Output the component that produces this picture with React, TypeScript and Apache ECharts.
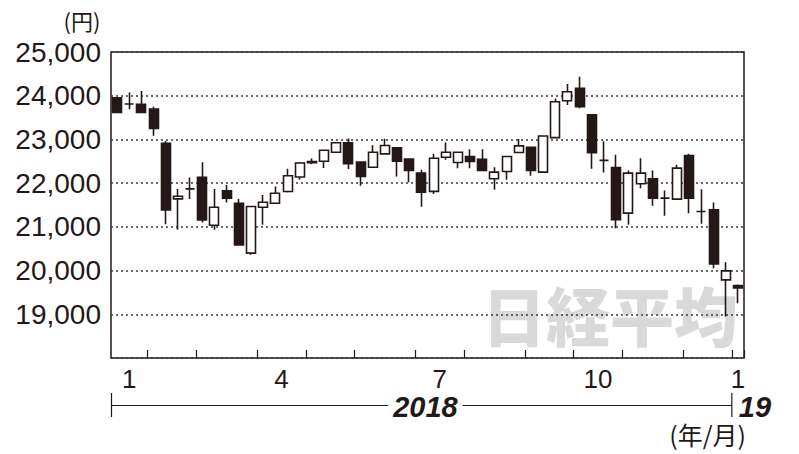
import React, { useEffect, useRef } from "react";
import * as echarts from "echarts";

// Weekly Nikkei 225 candles (week-ending dates)
const weeks = [
  "2018/01/12", "2018/01/19", "2018/01/26",
  "2018/02/02", "2018/02/09", "2018/02/16", "2018/02/23",
  "2018/03/02", "2018/03/09", "2018/03/16", "2018/03/23", "2018/03/30",
  "2018/04/06", "2018/04/13", "2018/04/20", "2018/04/27",
  "2018/05/02", "2018/05/11", "2018/05/18", "2018/05/25",
  "2018/06/01", "2018/06/08", "2018/06/15", "2018/06/22", "2018/06/29",
  "2018/07/06", "2018/07/13", "2018/07/20", "2018/07/27",
  "2018/08/03", "2018/08/10", "2018/08/17", "2018/08/24", "2018/08/31",
  "2018/09/07", "2018/09/14", "2018/09/21", "2018/09/28",
  "2018/10/05", "2018/10/12", "2018/10/19", "2018/10/26",
  "2018/11/02", "2018/11/09", "2018/11/16", "2018/11/22", "2018/11/30",
  "2018/12/07", "2018/12/14", "2018/12/21", "2018/12/28",
  "2019/01/04",
];

const opens = [
  23954, 23810, 23802,
  23695, 22911, 21639, 21868,
  22135, 21037, 21822, 21540, 20398,
  21449, 21539, 21808, 22139,
  22492, 22500, 22708, 22923,
  22485, 22362, 22669, 22808, 22554,
  22231, 21811, 22594, 22472,
  22609, 22548, 22100, 22267, 22700,
  22822, 22252, 23042, 23886,
  24167, 23562, 22520, 22359,
  21313, 21985, 22099, 21657, 21634,
  22633, 21351, 21390, 19787,
  19655,
];

const closes = [
  23619, 23810, 23619,
  23254, 21388, 21700, 21868,
  21160, 21449, 21654, 20588, 21464,
  21563, 21770, 22169, 22462,
  22470, 22754, 22923, 22446,
  22154, 22708, 22862, 22500, 22292,
  21792, 22571, 22708, 22708,
  22495, 22290, 22252, 22609, 22852,
  22290, 23080, 23863, 24091,
  23749, 22694, 22520, 21161,
  22229, 22229, 21657, 21657, 22343,
  21657, 21351, 20154, 19993,
  19600,
];

const lows = [
  23600, 23688, 23596,
  23086, 21060, 20931, 21639,
  21100, 20931, 21555, 20565, 20360,
  21046, 21539, 21785, 22077,
  22431, 22346, 22708, 22323,
  21939, 22362, 22669, 22154, 22023,
  21462, 21750, 22533, 22343,
  22343, 22290, 21849, 22077, 22700,
  22168, 22252, 23042, 23787,
  23711, 22331, 22241, 20970,
  21046, 21886, 21481, 21252, 21634,
  21313, 21069, 20054, 18948,
  19253,
];

const highs = [
  23960, 24076, 24106,
  23749, 22964, 21868, 22127,
  22477, 21868, 21959, 21639, 21464,
  21731, 21923, 22331, 22485,
  22562, 22754, 22923, 23023,
  22485, 22869, 23015, 22808, 22554,
  22308, 22670, 22928, 22708,
  22776, 22776, 22366, 22609, 23012,
  22822, 23080, 23939, 24266,
  24433, 23562, 22958, 22649,
  22290, 22572, 22290, 21832, 22420,
  22671, 21863, 21557, 20192,
  19680,
];

// Month labels shown under the axis (keyed by year/month)
const monthLabels: Record<string, string> = {
  "2018/01": "1",
  "2018/04": "4",
  "2018/07": "7",
  "2018/10": "10",
  "2019/01": "1",
};
const yearLabels = ["2018", "19"];
const yMin = 18000;
const yMax = 25000;
const yStep = 1000;
const yUnit = "(円)";
const xUnit = "(年/月)";
const watermark = "日経平均";

const INK = "#231815";
const GL = 111;
const GT = 52;
const GW = 633;
const GH = 306;

export default function App() {
  const ref = useRef<HTMLDivElement>(null);

  useEffect(() => {
    if (!ref.current) return;
    const chart = echarts.init(ref.current, null, { renderer: "svg" });
    const n = weeks.length;

    // group weeks by month
    const groups: { key: string; start: number; count: number }[] = [];
    weeks.forEach((w, i) => {
      const k = w.slice(0, 7);
      const last = groups[groups.length - 1];
      if (!last || last.key !== k) groups.push({ key: k, start: i, count: 1 });
      else last.count++;
    });
    const boundary = new Set(groups.slice(1).map((g) => g.start));
    const labelMap = new Map<number, string>();
    groups.forEach((g) => {
      if (monthLabels[g.key]) labelMap.set(Math.round((g.start + g.count / 2) * 2), monthLabels[g.key]);
    });
    const newYearIdx = weeks.findIndex((w) => w.startsWith("2019"));
    const xNewYear = GL + (newYearIdx * GW) / n;

    const latin = "'Liberation Sans', Arial, sans-serif";
    const cjk = "'Noto Sans CJK JP', sans-serif";

    chart.setOption({
      animation: false,
      backgroundColor: "#fff",
      grid: {
        left: GL,
        top: GT,
        width: GW,
        height: GH,
        show: true,
        borderColor: INK,
        borderWidth: 1.5,
        backgroundColor: "transparent",
      },
      xAxis: [
        {
          type: "category",
          data: weeks,
          boundaryGap: true,
          axisLine: { show: false },
          axisTick: {
            show: true,
            inside: true,
            length: 8,
            interval: (i: number) => boundary.has(i),
            lineStyle: { color: INK, width: 1.2 },
          },
          axisLabel: { show: false },
          splitLine: { show: false },
        },
        {
          type: "value",
          position: "bottom",
          offset: 0,
          min: 0,
          max: n,
          interval: 0.5,
          axisLine: { show: false },
          axisTick: { show: false },
          splitLine: { show: false },
          axisLabel: {
            show: true,
            margin: 10,
            fontSize: 26,
            lineHeight: 21,
            fontFamily: latin,
            color: INK,
            formatter: (v: number) => labelMap.get(Math.round(v * 2)) ?? "",
          },
        },
      ],
      yAxis: {
        type: "value",
        min: yMin,
        max: yMax,
        interval: yStep,
        axisLine: { show: false },
        axisTick: { show: false },
        axisLabel: {
          margin: 10,
          fontSize: 28,
          lineHeight: 24,
          fontFamily: latin,
          color: INK,
          formatter: (v: number) => (v === yMin ? "" : v.toLocaleString("en-US")),
        },
        splitLine: {
          show: true,
          lineStyle: { color: "#3a3a3a", width: 1.5, type: [2, 3] },
        },
      },
      series: [
        {
          type: "candlestick",
          xAxisIndex: 0,
          yAxisIndex: 0,
          barWidth: "78%",
          data: weeks.map((_, i) => [opens[i], closes[i], lows[i], highs[i]]),
          itemStyle: {
            color: "#ffffff",
            color0: INK,
            borderColor: INK,
            borderColor0: INK,
            borderColorDoji: INK,
            borderWidth: 1.6,
          },
        },
      ],
      graphic: [
        {
          type: "text",
          z: -1,
          x: 482,
          y: 281,
          silent: true,
          style: {
            text: watermark,
            fontSize: 64,
            fontWeight: 900,
            fontFamily: cjk,
            fill: "#d9d9d9",
            align: "left",
            verticalAlign: "top",
          },
        },
        {
          type: "text",
          x: 82,
          y: 20,
          style: {
            text: yUnit,
            fontSize: 22,
            lineHeight: 22,
            fontFamily: cjk,
            fill: INK,
            align: "center",
            verticalAlign: "middle",
          },
        },
        {
          type: "line",
          shape: { x1: GL, y1: 405.5, x2: xNewYear, y2: 405.5 },
          style: { stroke: INK, lineWidth: 1.2 },
        },
        {
          type: "line",
          shape: { x1: GL + 0.5, y1: 393, x2: GL + 0.5, y2: 417 },
          style: { stroke: INK, lineWidth: 1.2 },
        },
        {
          type: "line",
          shape: { x1: xNewYear, y1: 393, x2: xNewYear, y2: 417 },
          style: { stroke: INK, lineWidth: 1.2 },
        },
        {
          type: "text",
          x: (GL + xNewYear) / 2 + 4,
          y: 407,
          style: {
            text: yearLabels[0],
            fontSize: 29,
            lineHeight: 22,
            fontWeight: "bold",
            fontStyle: "italic",
            fontFamily: latin,
            fill: INK,
            align: "center",
            verticalAlign: "middle",
            backgroundColor: "#fff",
            padding: [0, 5],
          },
        },
        {
          type: "text",
          x: xNewYear + 7,
          y: 407,
          style: {
            text: yearLabels[1],
            fontSize: 29,
            lineHeight: 22,
            fontWeight: "bold",
            fontStyle: "italic",
            fontFamily: latin,
            fill: INK,
            align: "left",
            verticalAlign: "middle",
          },
        },
        {
          type: "text",
          x: 746,
          y: 434,
          style: {
            text: xUnit,
            fontSize: 25,
            lineHeight: 24,
            fontFamily: cjk,
            fill: INK,
            align: "right",
            verticalAlign: "middle",
          },
        },
      ],
    });

    return () => chart.dispose();
  }, []);

  return (
    <div
      ref={ref}
      style={{ position: "fixed", left: 0, top: 0, width: 799, height: 454, background: "#fff" }}
    />
  );
}
